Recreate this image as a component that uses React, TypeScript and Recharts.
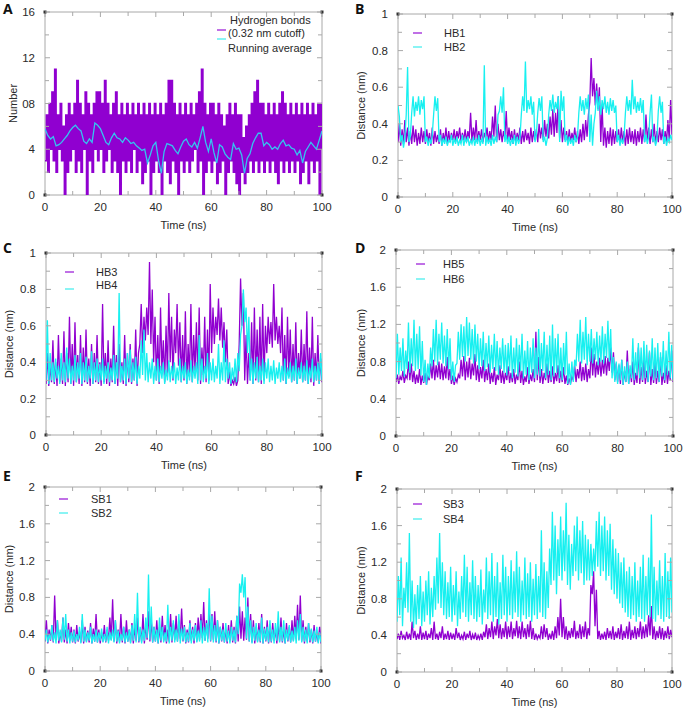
import React from 'react'
import { LineChart, Line, XAxis, YAxis, ReferenceArea, Legend } from 'recharts'

// ---- data (0..100 ns) ----
const hbondCount = [
  3, 7, 2, 8, 4, 9, 3, 11, 2, 7, 4, 8, 3, 6, 0, 7, 2, 8, 3, 7,
  4, 8, 2, 10, 3, 8, 2, 7, 4, 9, 0, 8, 3, 7, 2, 8, 4, 9, 3, 9,
  4, 8, 2, 10, 3, 8, 4, 7, 2, 8, 3, 9, 2, 7, 0, 8, 3, 7, 2, 8,
  3, 7, 2, 8, 4, 7, 2, 8, 3, 7, 1, 8, 2, 7, 3, 8, 0, 7, 2, 8,
  3, 7, 2, 8, 0, 7, 3, 8, 2, 10, 1, 10, 3, 8, 2, 7, 0, 8, 3, 7,
  2, 8, 3, 7, 2, 8, 3, 7, 4, 8, 2, 9, 3, 11, 0, 8, 2, 7, 3, 8,
  2, 8, 3, 7, 1, 8, 2, 7, 3, 6, 0, 7, 2, 8, 3, 7, 2, 8, 1, 7,
  0, 7, 2, 5, 1, 6, 2, 7, 3, 8, 2, 9, 3, 10, 2, 8, 3, 8, 2, 7,
  3, 8, 2, 7, 3, 8, 2, 7, 1, 8, 3, 9, 2, 8, 3, 7, 2, 8, 3, 7,
  2, 8, 3, 7, 1, 8, 2, 7, 3, 8, 1, 7, 3, 8, 2, 7, 3, 8, 0, 8, 4,
]
const hbondAvg = [
  5.8, 5.2, 4.9, 5.1, 4.3, 4.4, 4.6, 4.9, 5.2, 5.6, 5.9, 6.1, 5.8, 5.6, 4.7, 4.5, 4.9, 4.6, 6.3, 6.1,
  5.8, 5.2, 4.6, 4.4, 5.0, 5.4, 5.0, 4.9, 4.6, 5.0, 4.8, 4.5, 4.6, 4.3, 4.1, 3.9, 4.0, 2.8, 3.5, 4.3,
  4.6, 3.0, 1.9, 3.8, 4.5, 4.4, 4.3, 3.9, 3.6, 4.2, 4.7, 4.9, 4.4, 4.2, 4.6, 4.1, 5.0, 6.0, 4.6, 3.8,
  4.9, 3.7, 2.8, 4.4, 4.2, 3.6, 3.3, 3.1, 4.5, 4.0, 4.1, 3.5, 1.9, 3.2, 3.6, 4.5, 5.0, 5.4, 5.4, 4.3,
  4.6, 4.4, 4.0, 4.2, 4.0, 4.5, 4.8, 4.3, 4.4, 4.1, 4.0, 3.5, 3.9, 2.8, 3.8, 4.2, 4.6, 4.3, 4.0, 4.8, 5.6,
]

const hb1 = [
  0.30, 0.40, 0.28, 0.37, 0.29, 0.42, 0.30, 0.38, 0.28, 0.36, 0.29, 0.39, 0.30, 0.37, 0.28, 0.35, 0.29, 0.38, 0.30, 0.36,
  0.29, 0.37, 0.30, 0.35, 0.28, 0.38, 0.29, 0.36, 0.30, 0.34, 0.29, 0.37, 0.28, 0.35, 0.30, 0.38, 0.29, 0.36, 0.30, 0.35,
  0.31, 0.37, 0.30, 0.36, 0.32, 0.38, 0.30, 0.35, 0.31, 0.37, 0.30, 0.36, 0.32, 0.46, 0.30, 0.38, 0.31, 0.42, 0.30, 0.36,
  0.31, 0.37, 0.30, 0.35, 0.32, 0.38, 0.30, 0.36, 0.31, 0.44, 0.33, 0.50, 0.30, 0.40, 0.31, 0.37, 0.30, 0.36, 0.32, 0.47,
  0.30, 0.38, 0.31, 0.36, 0.29, 0.37, 0.30, 0.35, 0.31, 0.38, 0.29, 0.36, 0.30, 0.37, 0.31, 0.35, 0.29, 0.38, 0.30, 0.36,
  0.31, 0.37, 0.30, 0.40, 0.32, 0.38, 0.31, 0.42, 0.33, 0.40, 0.32, 0.44, 0.34, 0.48, 0.33, 0.46, 0.35, 0.55, 0.32, 0.42,
  0.30, 0.38, 0.31, 0.36, 0.29, 0.37, 0.30, 0.35, 0.31, 0.38, 0.30, 0.36, 0.29, 0.37, 0.30, 0.40, 0.31, 0.42, 0.33, 0.45,
  0.52, 0.76, 0.55, 0.65, 0.50, 0.62, 0.48, 0.60, 0.30, 0.50, 0.28, 0.38, 0.27, 0.36, 0.29, 0.38, 0.28, 0.37, 0.29, 0.36,
  0.30, 0.37, 0.29, 0.38, 0.30, 0.36, 0.28, 0.37, 0.29, 0.38, 0.30, 0.36, 0.29, 0.37, 0.28, 0.36, 0.30, 0.38, 0.29, 0.37,
  0.30, 0.45, 0.31, 0.38, 0.29, 0.37, 0.30, 0.40, 0.29, 0.36, 0.30, 0.38, 0.31, 0.37, 0.29, 0.36, 0.30, 0.42, 0.31, 0.53, 0.34,
]
const hb2 = [
  0.50, 0.44, 0.30, 0.34, 0.27, 0.32, 0.45, 0.71, 0.30, 0.33, 0.46, 0.55, 0.44, 0.52, 0.47, 0.55, 0.45, 0.53, 0.48, 0.55,
  0.30, 0.33, 0.28, 0.32, 0.29, 0.34, 0.45, 0.55, 0.47, 0.54, 0.30, 0.34, 0.28, 0.32, 0.29, 0.33, 0.28, 0.31, 0.30, 0.34,
  0.28, 0.32, 0.29, 0.33, 0.28, 0.31, 0.29, 0.34, 0.28, 0.32, 0.30, 0.33, 0.28, 0.31, 0.29, 0.33, 0.28, 0.32, 0.29, 0.34,
  0.28, 0.32, 0.29, 0.72, 0.28, 0.33, 0.29, 0.32, 0.28, 0.34, 0.29, 0.33, 0.30, 0.45, 0.47, 0.55, 0.46, 0.60, 0.30, 0.34,
  0.29, 0.33, 0.28, 0.32, 0.29, 0.34, 0.28, 0.33, 0.29, 0.32, 0.45, 0.55, 0.47, 0.74, 0.46, 0.53, 0.48, 0.55, 0.45, 0.52,
  0.30, 0.34, 0.46, 0.54, 0.47, 0.55, 0.30, 0.33, 0.28, 0.32, 0.45, 0.53, 0.47, 0.56, 0.46, 0.52, 0.48, 0.55, 0.30, 0.58,
  0.47, 0.55, 0.30, 0.34, 0.28, 0.33, 0.29, 0.32, 0.28, 0.34, 0.30, 0.33, 0.46, 0.55, 0.47, 0.53, 0.45, 0.54, 0.48, 0.56,
  0.30, 0.45, 0.28, 0.40, 0.46, 0.58, 0.47, 0.55, 0.45, 0.53, 0.48, 0.55, 0.46, 0.52, 0.45, 0.54, 0.47, 0.53, 0.46, 0.50,
  0.30, 0.34, 0.28, 0.32, 0.29, 0.33, 0.46, 0.55, 0.47, 0.53, 0.45, 0.64, 0.48, 0.55, 0.46, 0.52, 0.47, 0.54, 0.46, 0.53,
  0.30, 0.34, 0.29, 0.33, 0.46, 0.56, 0.30, 0.33, 0.28, 0.32, 0.47, 0.55, 0.46, 0.52, 0.29, 0.33, 0.28, 0.32, 0.30, 0.34, 0.31,
]

const hb3 = [
  0.28, 0.45, 0.27, 0.38, 0.29, 0.52, 0.28, 0.40, 0.27, 0.55, 0.29, 0.42, 0.28, 0.57, 0.27, 0.45, 0.29, 0.65, 0.28, 0.50,
  0.27, 0.62, 0.29, 0.44, 0.28, 0.55, 0.27, 0.48, 0.29, 0.58, 0.28, 0.42, 0.27, 0.50, 0.28, 0.45, 0.29, 0.55, 0.28, 0.40,
  0.27, 0.72, 0.29, 0.45, 0.28, 0.52, 0.27, 0.42, 0.29, 0.60, 0.28, 0.44, 0.27, 0.50, 0.29, 0.40, 0.28, 0.55, 0.27, 0.45,
  0.29, 0.50, 0.28, 0.42, 0.30, 0.58, 0.27, 0.45, 0.50, 0.72, 0.45, 0.65, 0.52, 0.70, 0.55, 0.95, 0.50, 0.80, 0.40, 0.65,
  0.30, 0.55, 0.28, 0.70, 0.35, 0.52, 0.29, 0.60, 0.32, 0.78, 0.40, 0.65, 0.30, 0.58, 0.45, 0.72, 0.38, 0.62, 0.29, 0.55,
  0.30, 0.68, 0.28, 0.50, 0.32, 0.72, 0.29, 0.55, 0.35, 0.62, 0.30, 0.70, 0.28, 0.48, 0.33, 0.65, 0.29, 0.58, 0.30, 0.83,
  0.45, 0.70, 0.50, 0.65, 0.55, 0.75, 0.52, 0.70, 0.48, 0.62, 0.40, 0.58, 0.28, 0.35, 0.27, 0.30, 0.28, 0.32, 0.27, 0.30,
  0.50, 0.86, 0.60, 0.78, 0.30, 0.55, 0.28, 0.45, 0.30, 0.62, 0.28, 0.70, 0.30, 0.58, 0.29, 0.65, 0.28, 0.72, 0.30, 0.60,
  0.45, 0.65, 0.50, 0.62, 0.48, 0.83, 0.52, 0.65, 0.50, 0.60, 0.45, 0.70, 0.30, 0.55, 0.28, 0.65, 0.32, 0.58, 0.29, 0.50,
  0.30, 0.62, 0.28, 0.45, 0.31, 0.58, 0.29, 0.50, 0.30, 0.68, 0.28, 0.48, 0.29, 0.65, 0.27, 0.45, 0.30, 0.55, 0.28, 0.42, 0.29,
]
const hb4 = [
  0.30, 0.63, 0.28, 0.45, 0.30, 0.40, 0.29, 0.42, 0.31, 0.38, 0.28, 0.45, 0.30, 0.40, 0.29, 0.48, 0.31, 0.42, 0.28, 0.38,
  0.30, 0.44, 0.29, 0.40, 0.31, 0.45, 0.28, 0.40, 0.30, 0.43, 0.29, 0.38, 0.31, 0.46, 0.28, 0.40, 0.30, 0.42, 0.29, 0.39,
  0.30, 0.42, 0.28, 0.38, 0.31, 0.40, 0.29, 0.37, 0.30, 0.44, 0.28, 0.40, 0.31, 0.78, 0.29, 0.38, 0.30, 0.42, 0.28, 0.45,
  0.31, 0.47, 0.29, 0.40, 0.30, 0.43, 0.28, 0.38, 0.31, 0.52, 0.33, 0.58, 0.30, 0.45, 0.29, 0.40, 0.31, 0.42, 0.28, 0.38,
  0.30, 0.42, 0.29, 0.38, 0.31, 0.40, 0.28, 0.36, 0.30, 0.41, 0.29, 0.38, 0.31, 0.40, 0.28, 0.37, 0.30, 0.42, 0.29, 0.38,
  0.31, 0.40, 0.28, 0.36, 0.30, 0.41, 0.29, 0.38, 0.31, 0.40, 0.28, 0.55, 0.30, 0.42, 0.29, 0.38, 0.31, 0.45, 0.28, 0.40,
  0.30, 0.42, 0.29, 0.38, 0.31, 0.50, 0.28, 0.40, 0.30, 0.52, 0.29, 0.42, 0.31, 0.40, 0.28, 0.37, 0.30, 0.42, 0.29, 0.45,
  0.35, 0.55, 0.60, 0.80, 0.62, 0.70, 0.45, 0.65, 0.30, 0.42, 0.28, 0.40, 0.31, 0.43, 0.29, 0.38, 0.30, 0.42, 0.28, 0.40,
  0.31, 0.42, 0.29, 0.38, 0.30, 0.41, 0.28, 0.37, 0.31, 0.40, 0.29, 0.38, 0.30, 0.42, 0.28, 0.37, 0.31, 0.40, 0.29, 0.38,
  0.30, 0.42, 0.28, 0.37, 0.31, 0.40, 0.29, 0.38, 0.30, 0.41, 0.28, 0.37, 0.31, 0.42, 0.29, 0.38, 0.30, 0.40, 0.28, 0.45, 0.30,
]

const hb5 = [
  0.58, 0.66, 0.56, 0.64, 0.60, 0.70, 0.57, 0.65, 0.62, 0.80, 0.60, 0.78, 0.58, 0.70, 0.56, 0.66, 0.57, 0.72, 0.55, 0.65,
  0.57, 0.68, 0.55, 0.64, 0.60, 0.78, 0.62, 0.82, 0.60, 0.76, 0.63, 0.80, 0.61, 0.78, 0.60, 0.75, 0.62, 0.85, 0.60, 0.72,
  0.56, 0.65, 0.55, 0.62, 0.58, 0.66, 0.62, 0.82, 0.64, 0.86, 0.60, 0.80, 0.63, 0.84, 0.61, 0.78, 0.65, 0.88, 0.60, 0.76,
  0.58, 0.74, 0.62, 0.82, 0.58, 0.72, 0.60, 0.78, 0.56, 0.68, 0.58, 0.74, 0.55, 0.66, 0.60, 0.76, 0.57, 0.70, 0.56, 0.68,
  0.60, 0.75, 0.57, 0.68, 0.58, 0.72, 0.56, 0.66, 0.60, 0.80, 0.57, 0.70, 0.55, 0.64, 0.58, 0.74, 0.56, 0.66, 0.59, 0.72,
  0.58, 1.12, 0.60, 0.85, 0.57, 0.72, 0.56, 0.68, 0.60, 0.78, 0.57, 0.70, 0.58, 0.75, 0.56, 0.68, 0.59, 0.76, 0.57, 0.70,
  0.58, 0.74, 0.56, 0.65, 0.55, 0.62, 0.56, 0.64, 0.60, 0.76, 0.58, 0.72, 0.62, 0.80, 0.59, 0.74, 0.60, 0.78, 0.58, 0.72,
  0.62, 0.95, 0.65, 0.88, 0.63, 0.80, 0.66, 0.84, 0.64, 0.82, 0.67, 0.86, 0.65, 0.84, 0.70, 0.95, 0.68, 0.90, 0.60, 0.78,
  0.58, 0.76, 0.56, 0.82, 0.55, 0.70, 0.58, 0.92, 0.56, 0.72, 0.58, 0.80, 0.55, 0.68, 0.57, 0.95, 0.56, 0.74, 0.58, 0.82,
  0.56, 0.70, 0.58, 0.90, 0.55, 0.72, 0.57, 0.80, 0.56, 0.70, 0.58, 0.85, 0.55, 0.68, 0.57, 0.76, 0.56, 0.70, 0.60, 0.92, 0.58,
]
const hb6 = [
  0.62, 1.10, 0.66, 0.95, 0.70, 1.05, 0.64, 0.92, 0.72, 1.22, 0.68, 1.05, 0.75, 1.25, 0.70, 1.10, 0.72, 1.18, 0.65, 1.02,
  0.58, 0.82, 0.55, 0.78, 0.62, 0.95, 0.75, 1.15, 0.80, 1.25, 0.76, 1.10, 0.82, 1.22, 0.78, 1.08, 0.75, 1.15, 0.72, 1.05,
  0.60, 0.80, 0.58, 0.76, 0.78, 1.12, 0.82, 1.20, 0.85, 1.18, 0.80, 1.28, 0.86, 1.22, 0.82, 1.15, 0.78, 1.20, 0.80, 1.10,
  0.72, 1.05, 0.75, 1.12, 0.70, 1.00, 0.74, 1.08, 0.68, 0.98, 0.72, 1.10, 0.70, 1.02, 0.66, 0.95, 0.72, 1.05, 0.68, 0.98,
  0.65, 1.00, 0.70, 1.08, 0.62, 0.95, 0.68, 1.05, 0.64, 0.98, 0.70, 1.10, 0.62, 0.92, 0.66, 1.02, 0.60, 0.95, 0.68, 1.05,
  0.62, 0.95, 0.66, 1.15, 0.64, 1.00, 0.70, 1.12, 0.62, 0.98, 0.66, 1.08, 0.60, 1.20, 0.64, 1.05, 0.68, 1.10, 0.62, 0.95,
  0.60, 1.00, 0.66, 1.12, 0.56, 0.78, 0.55, 0.80, 0.58, 0.82, 0.75, 1.10, 0.80, 1.25, 0.78, 1.12, 0.82, 1.28, 0.76, 1.10,
  0.80, 1.15, 0.78, 1.05, 0.82, 1.12, 0.76, 1.08, 0.80, 1.18, 0.78, 1.10, 0.84, 1.24, 0.80, 1.15, 0.62, 0.85, 0.58, 0.80,
  0.56, 0.78, 0.60, 0.82, 0.55, 0.75, 0.58, 0.80, 0.56, 0.76, 0.62, 1.05, 0.60, 0.90, 0.65, 1.00, 0.62, 0.95, 0.60, 1.02,
  0.62, 0.98, 0.58, 0.92, 0.64, 1.05, 0.60, 0.95, 0.62, 1.00, 0.58, 0.90, 0.64, 1.02, 0.60, 0.92, 0.66, 1.12, 0.62, 0.98, 0.60,
]

const sb1 = [
  0.32, 0.55, 0.30, 0.45, 0.33, 0.50, 0.31, 0.82, 0.34, 0.55, 0.30, 0.42, 0.32, 0.58, 0.31, 0.45, 0.30, 0.52, 0.33, 0.48,
  0.31, 0.45, 0.30, 0.50, 0.32, 0.42, 0.31, 0.55, 0.30, 0.48, 0.32, 0.44, 0.31, 0.52, 0.30, 0.46, 0.32, 0.62, 0.31, 0.45,
  0.30, 0.42, 0.32, 0.50, 0.31, 0.45, 0.33, 0.58, 0.34, 0.78, 0.32, 0.55, 0.30, 0.45, 0.32, 0.62, 0.31, 0.48, 0.30, 0.55,
  0.32, 0.45, 0.31, 0.52, 0.30, 0.48, 0.33, 0.58, 0.31, 0.45, 0.32, 0.62, 0.30, 0.50, 0.34, 0.65, 0.32, 0.55, 0.31, 0.48,
  0.32, 0.55, 0.30, 0.48, 0.31, 0.60, 0.33, 0.50, 0.30, 0.45, 0.32, 0.62, 0.31, 0.52, 0.34, 0.60, 0.32, 0.55, 0.35, 0.68,
  0.32, 0.50, 0.30, 0.45, 0.31, 0.55, 0.33, 0.48, 0.30, 0.52, 0.32, 0.58, 0.34, 0.62, 0.36, 0.75, 0.33, 0.55, 0.35, 0.65,
  0.32, 0.62, 0.34, 0.65, 0.31, 0.55, 0.30, 0.48, 0.32, 0.52, 0.31, 0.45, 0.30, 0.50, 0.32, 0.55, 0.31, 0.48, 0.30, 0.60,
  0.32, 0.70, 0.35, 0.65, 0.33, 0.58, 0.34, 0.80, 0.32, 0.62, 0.31, 0.55, 0.30, 0.48, 0.32, 0.52, 0.31, 0.62, 0.30, 0.48,
  0.32, 0.55, 0.30, 0.48, 0.31, 0.52, 0.33, 0.45, 0.30, 0.50, 0.32, 0.58, 0.31, 0.45, 0.30, 0.52, 0.32, 0.48, 0.31, 0.55,
  0.33, 0.60, 0.35, 0.72, 0.34, 0.82, 0.32, 0.55, 0.30, 0.48, 0.32, 0.52, 0.31, 0.45, 0.30, 0.50, 0.32, 0.42, 0.31, 0.48, 0.30,
]
const sb2 = [
  0.33, 0.45, 0.31, 0.40, 0.34, 0.50, 0.32, 0.42, 0.30, 0.55, 0.33, 0.45, 0.31, 0.58, 0.34, 0.62, 0.32, 0.45, 0.30, 0.42,
  0.32, 0.44, 0.31, 0.40, 0.33, 0.48, 0.30, 0.62, 0.32, 0.45, 0.31, 0.42, 0.33, 0.48, 0.30, 0.40, 0.32, 0.45, 0.31, 0.42,
  0.33, 0.46, 0.31, 0.40, 0.32, 0.48, 0.30, 0.42, 0.33, 0.45, 0.31, 0.55, 0.32, 0.44, 0.30, 0.40, 0.33, 0.48, 0.31, 0.42,
  0.32, 0.45, 0.30, 0.50, 0.33, 0.62, 0.31, 0.85, 0.32, 0.48, 0.30, 0.45, 0.33, 0.58, 0.36, 1.05, 0.34, 0.70, 0.31, 0.48,
  0.32, 0.45, 0.30, 0.58, 0.33, 0.48, 0.31, 0.42, 0.32, 0.72, 0.30, 0.48, 0.33, 0.55, 0.31, 0.45, 0.32, 0.62, 0.30, 0.46,
  0.33, 0.48, 0.31, 0.42, 0.32, 0.52, 0.30, 0.45, 0.33, 0.50, 0.31, 0.44, 0.32, 0.55, 0.30, 0.48, 0.33, 0.52, 0.31, 0.90,
  0.33, 0.60, 0.31, 0.50, 0.32, 0.55, 0.30, 0.48, 0.33, 0.45, 0.31, 0.52, 0.32, 0.44, 0.30, 0.48, 0.33, 0.45, 0.31, 0.60,
  0.40, 0.95, 0.85, 1.05, 0.80, 1.02, 0.35, 0.70, 0.32, 0.55, 0.30, 0.48, 0.33, 0.52, 0.31, 0.45, 0.32, 0.58, 0.30, 0.46,
  0.33, 0.48, 0.31, 0.55, 0.32, 0.45, 0.30, 0.52, 0.33, 0.65, 0.31, 0.48, 0.32, 0.55, 0.30, 0.45, 0.33, 0.50, 0.31, 0.44,
  0.32, 0.48, 0.30, 0.55, 0.33, 0.62, 0.31, 0.48, 0.32, 0.45, 0.30, 0.52, 0.33, 0.46, 0.31, 0.44, 0.32, 0.48, 0.30, 0.42, 0.31,
]

const sb3 = [
  0.36, 0.42, 0.35, 0.45, 0.37, 0.40, 0.35, 0.44, 0.36, 0.42, 0.35, 0.55, 0.37, 0.45, 0.35, 0.42, 0.36, 0.50, 0.35, 0.43,
  0.36, 0.45, 0.35, 0.42, 0.37, 0.48, 0.35, 0.55, 0.36, 0.42, 0.35, 0.44, 0.37, 0.50, 0.35, 0.42, 0.36, 0.45, 0.35, 0.43,
  0.36, 0.42, 0.35, 0.48, 0.37, 0.43, 0.35, 0.40, 0.36, 0.44, 0.35, 0.42, 0.37, 0.45, 0.35, 0.41, 0.36, 0.43, 0.35, 0.40,
  0.36, 0.42, 0.35, 0.44, 0.38, 0.52, 0.36, 0.48, 0.38, 0.55, 0.36, 0.50, 0.40, 0.58, 0.37, 0.52, 0.36, 0.48, 0.38, 0.55,
  0.36, 0.50, 0.38, 0.55, 0.36, 0.48, 0.39, 0.56, 0.37, 0.50, 0.36, 0.55, 0.38, 0.48, 0.36, 0.52, 0.38, 0.56, 0.36, 0.48,
  0.35, 0.42, 0.36, 0.40, 0.37, 0.50, 0.36, 0.52, 0.38, 0.48, 0.35, 0.42, 0.36, 0.45, 0.35, 0.50, 0.37, 0.60, 0.40, 0.80,
  0.38, 0.60, 0.36, 0.50, 0.35, 0.45, 0.37, 0.48, 0.38, 0.56, 0.36, 0.45, 0.37, 0.52, 0.36, 0.50, 0.38, 0.55, 0.36, 0.48,
  0.40, 0.95, 0.85, 1.10, 0.50, 0.90, 0.36, 0.45, 0.35, 0.42, 0.36, 0.44, 0.35, 0.48, 0.37, 0.45, 0.36, 0.50, 0.35, 0.44,
  0.37, 0.48, 0.36, 0.52, 0.35, 0.45, 0.37, 0.50, 0.36, 0.55, 0.35, 0.46, 0.37, 0.50, 0.36, 0.48, 0.38, 0.55, 0.36, 0.50,
  0.37, 0.52, 0.38, 0.62, 0.40, 0.72, 0.36, 0.50, 0.35, 0.45, 0.37, 0.50, 0.36, 0.48, 0.35, 0.45, 0.37, 0.50, 0.36, 0.46, 0.38,
]
const sb4 = [
  0.55, 1.05, 0.62, 1.25, 0.50, 0.92, 0.70, 1.20, 0.65, 1.52, 0.55, 1.00, 0.48, 0.85, 0.52, 0.95, 0.58, 1.05, 0.50, 0.88,
  0.55, 1.00, 0.62, 1.10, 0.52, 0.92, 0.60, 1.05, 0.68, 1.25, 0.75, 1.52, 0.70, 1.20, 0.62, 1.10, 0.58, 0.98, 0.60, 1.15,
  0.55, 0.95, 0.62, 1.10, 0.50, 0.88, 0.58, 1.05, 0.65, 1.28, 0.60, 1.15, 0.55, 0.98, 0.62, 1.22, 0.58, 1.05, 0.55, 0.95,
  0.60, 1.12, 0.52, 0.90, 0.65, 1.25, 0.58, 1.10, 0.62, 1.30, 0.55, 1.05, 0.60, 1.20, 0.52, 0.98, 0.58, 1.28, 0.62, 1.15,
  0.55, 1.05, 0.62, 1.22, 0.58, 1.10, 0.65, 1.32, 0.60, 1.15, 0.55, 1.00, 0.62, 1.25, 0.58, 1.08, 0.60, 1.20, 0.55, 1.02,
  0.62, 1.18, 0.58, 1.05, 0.65, 1.55, 0.60, 1.20, 0.58, 1.10, 0.70, 1.35, 0.95, 1.75, 1.00, 1.60, 0.85, 1.45, 1.05, 1.70,
  1.00, 1.55, 1.10, 1.85, 0.95, 1.50, 0.90, 1.40, 1.05, 1.60, 1.10, 1.70, 1.00, 1.55, 1.08, 1.65, 0.95, 1.50, 1.00, 1.45,
  1.00, 1.40, 1.05, 1.35, 1.10, 1.65, 1.15, 1.75, 1.05, 1.60, 1.10, 1.70, 1.00, 1.55, 1.05, 1.62, 0.90, 1.45, 0.85, 1.35,
  0.80, 1.30, 0.75, 1.20, 0.70, 1.25, 0.65, 1.10, 0.60, 1.15, 0.58, 1.05, 0.62, 1.20, 0.55, 1.00, 0.60, 1.15, 0.58, 1.28,
  0.55, 1.05, 0.62, 1.25, 0.60, 1.72, 0.58, 1.15, 0.55, 1.00, 0.62, 1.22, 0.58, 1.05, 0.55, 1.30, 0.60, 1.10, 0.58, 1.25, 0.65,
]

const xTicks = [0, 10, 20, 30, 40, 50, 60, 70, 80, 90, 100]
const xMajor = [0, 20, 40, 60, 80, 100]

const countTicks = [0, 2, 4, 6, 8, 10, 12, 14, 16]
const countMajor = [0, 4, 8, 12, 16]
const countLabels = ['0', '4', '08', '12', '16']

const unitTicks = [0, 0.1, 0.2, 0.3, 0.4, 0.5, 0.6, 0.7, 0.8, 0.9, 1]
const unitMajor = [0, 0.2, 0.4, 0.6, 0.8, 1]
const unitLabels = ['0', '0.2', '0.4', '0.6', '0.8', '1']

const twoTicks = [0, 0.2, 0.4, 0.6, 0.8, 1, 1.2, 1.4, 1.6, 1.8, 2]
const twoMajor = [0, 0.4, 0.8, 1.2, 1.6, 2]
const twoLabels = ['0', '0.4', '0.8', '1.2', '1.6', '2']

const PURPLE = '#9000d0'
const CYAN = '#18f0f0'
const AVG = '#34c4f0'
const PURPLE_KEY = '#c070e6'
const CYAN_KEY = '#8af4f4'
const FRAME = '#a8a8a8'
const TEXT = '#2a2a2a'

const toRows = (vals: number[]) => vals.map((v, i) => ({ t: (i * 100) / (vals.length - 1), v }))

const W = 340
const H = 245
const YW = 40
const XH = 40

function Panel({ left, top, plot, yMax, yTicks, yMajor, yLabels, yTitle, titleX, series, legend }) {
  const [pl, pt, pr, pb] = plot
  const margin = { top: pt - top, right: left + W - pr, left: pl - left - YW, bottom: top + H - pb - XH }
  const iT = pt - top
  const iB = pb - top
  const iL = pl - left
  const iR = pr - left

  const xTick = ({ x, payload }) => {
    const v = payload.value
    const major = xMajor.includes(v)
    const len = major ? 5 : 4
    return (
      <g>
        <line x1={x} x2={x} y1={iB} y2={iB - len} stroke={FRAME} />
        <line x1={x} x2={x} y1={iT} y2={iT + len} stroke={FRAME} />
        {(v === 0 || v === 100) && (
          <>
            <rect x={x - 1.5} y={iB - 1.5} width={3} height={3} fill="#333" />
            <rect x={x - 1.5} y={iT - 1.5} width={3} height={3} fill="#333" />
          </>
        )}
        {major && (
          <text x={x} y={iB + 16} textAnchor="middle" fontSize={11.5} fill={TEXT}>
            {v}
          </text>
        )}
      </g>
    )
  }

  const yTick = ({ y, payload }) => {
    const v = payload.value
    const idx = yMajor.findIndex((m) => Math.abs(m - v) < 1e-6)
    const len = idx >= 0 ? 5 : 4
    return (
      <g>
        <line x1={iL} x2={iL + len} y1={y} y2={y} stroke={FRAME} />
        <line x1={iR} x2={iR - len} y1={y} y2={y} stroke={FRAME} />
        {idx >= 0 && (
          <text x={iL - 10} y={y + 4} textAnchor="end" fontSize={11.5} fill={TEXT}>
            {yLabels[idx]}
          </text>
        )}
      </g>
    )
  }

  const cy = (iT + iB) / 2
  const cx = titleX - left
  const yLabel = () => (
    <text
      x={cx}
      y={cy}
      transform={`rotate(-90 ${cx} ${cy})`}
      textAnchor="middle"
      dominantBaseline="central"
      fontSize={11}
      fill={TEXT}
    >
      {yTitle}
    </text>
  )

  const legendBox = () => (
    <div style={{ position: 'relative', width: W, height: H, fontSize: 11, color: TEXT }}>
      {legend.map((it, i) => (
        <React.Fragment key={i}>
          {it.color && (
            <div
              style={{
                position: 'absolute',
                left: it.dashX - left,
                top: it.dashY - top - 1,
                width: 9,
                height: 2,
                background: it.color,
              }}
            />
          )}
          {it.label && (
            <div
              style={{
                position: 'absolute',
                left: it.textX - left,
                top: it.textY - top - 7,
                lineHeight: '14px',
                whiteSpace: 'nowrap',
              }}
            >
              {it.label}
            </div>
          )}
        </React.Fragment>
      ))}
    </div>
  )

  return (
    <div style={{ position: 'absolute', left, top }}>
      <LineChart width={W} height={H} margin={margin}>
        <XAxis
          dataKey="t"
          type="number"
          domain={[0, 100]}
          ticks={xTicks}
          interval={0}
          tick={xTick}
          tickLine={false}
          axisLine={false}
          tickSize={0}
          tickMargin={0}
          height={XH}
          allowDataOverflow
          label={{ value: 'Time (ns)', position: 'insideBottom', offset: 6, fontSize: 11, fill: TEXT }}
        />
        <YAxis
          type="number"
          domain={[0, yMax]}
          ticks={yTicks}
          interval={0}
          tick={yTick}
          tickLine={false}
          axisLine={false}
          tickSize={0}
          tickMargin={0}
          width={YW}
          allowDataOverflow
          label={yLabel}
        />
        {series.map((s, i) => (
          <Line
            key={i}
            data={toRows(s.values)}
            dataKey="v"
            type={s.step ? 'stepAfter' : 'linear'}
            stroke={s.color}
            strokeWidth={s.width || 1.3}
            dot={false}
            activeDot={false}
            isAnimationActive={false}
          />
        ))}
        <ReferenceArea x1={0} x2={100} y1={0} y2={yMax} fill="none" stroke={FRAME} strokeWidth={1} />
        <Legend
          layout="horizontal"
          verticalAlign="middle"
          align="center"
          content={legendBox}
          wrapperStyle={{ left: 0, top: 0, width: W, height: H, pointerEvents: 'none' }}
        />
      </LineChart>
    </div>
  )
}

const letterStyle = {
  position: 'absolute' as const,
  fontFamily: '"Open Sans", "DejaVu Sans", sans-serif',
  fontWeight: 700,
  fontSize: 14,
  lineHeight: '14px',
  color: '#111',
}

export default function App() {
  return (
    <div
      style={{
        position: 'absolute',
        left: 0,
        top: 0,
        width: 685,
        height: 716,
        background: '#fff',
        fontFamily: '"Liberation Sans", Arial, sans-serif',
      }}
    >
      <Panel
        left={0}
        top={0}
        plot={[45, 12, 322, 195]}
        yMax={16}
        yTicks={countTicks}
        yMajor={countMajor}
        yLabels={countLabels}
        yTitle="Number"
        titleX={13}
        series={[
          { values: hbondCount, color: PURPLE, step: true, width: 1.6 },
          { values: hbondAvg, color: AVG, width: 1.3 },
        ]}
        legend={[
          { label: 'Hydrogen bonds', textX: 230, textY: 20 },
          { label: '(0.32 nm cutoff)', textX: 228, textY: 33, color: PURPLE_KEY, dashX: 217, dashY: 30 },
          { label: 'Running average', textX: 228, textY: 48, color: CYAN_KEY, dashX: 217, dashY: 39 },
        ]}
      />
      <Panel
        left={345}
        top={0}
        plot={[398, 14, 672, 197]}
        yMax={1}
        yTicks={unitTicks}
        yMajor={unitMajor}
        yLabels={unitLabels}
        yTitle="Distance (nm)"
        titleX={361}
        series={[
          { values: hb1, color: PURPLE },
          { values: hb2, color: CYAN },
        ]}
        legend={[
          { label: 'HB1', textX: 444, textY: 33, color: PURPLE_KEY, dashX: 413, dashY: 33 },
          { label: 'HB2', textX: 444, textY: 47, color: CYAN_KEY, dashX: 413, dashY: 47 },
        ]}
      />
      <Panel
        left={0}
        top={235}
        plot={[46, 253, 322, 435]}
        yMax={1}
        yTicks={unitTicks}
        yMajor={unitMajor}
        yLabels={unitLabels}
        yTitle="Distance (nm)"
        titleX={9}
        series={[
          { values: hb3, color: PURPLE },
          { values: hb4, color: CYAN },
        ]}
        legend={[
          { label: 'HB3', textX: 96, textY: 272, color: PURPLE_KEY, dashX: 65, dashY: 272 },
          { label: 'HB4', textX: 96, textY: 285, color: CYAN_KEY, dashX: 65, dashY: 289 },
        ]}
      />
      <Panel
        left={345}
        top={235}
        plot={[396, 250, 673, 436]}
        yMax={2}
        yTicks={twoTicks}
        yMajor={twoMajor}
        yLabels={twoLabels}
        yTitle="Distance (nm)"
        titleX={361}
        series={[
          { values: hb5, color: PURPLE },
          { values: hb6, color: CYAN },
        ]}
        legend={[
          { label: 'HB5', textX: 443, textY: 264, color: PURPLE_KEY, dashX: 416, dashY: 264 },
          { label: 'HB6', textX: 443, textY: 279, color: CYAN_KEY, dashX: 416, dashY: 279 },
        ]}
      />
      <Panel
        left={0}
        top={470}
        plot={[45, 487, 321, 671]}
        yMax={2}
        yTicks={twoTicks}
        yMajor={twoMajor}
        yLabels={twoLabels}
        yTitle="Distance (nm)"
        titleX={9}
        series={[
          { values: sb1, color: PURPLE },
          { values: sb2, color: CYAN },
        ]}
        legend={[
          { label: 'SB1', textX: 91, textY: 499, color: PURPLE_KEY, dashX: 59, dashY: 499 },
          { label: 'SB2', textX: 91, textY: 513, color: CYAN_KEY, dashX: 59, dashY: 513 },
        ]}
      />
      <Panel
        left={345}
        top={470}
        plot={[397, 489, 672, 672]}
        yMax={2}
        yTicks={twoTicks}
        yMajor={twoMajor}
        yLabels={twoLabels}
        yTitle="Distance (nm)"
        titleX={361}
        series={[
          { values: sb3, color: PURPLE },
          { values: sb4, color: CYAN },
        ]}
        legend={[
          { label: 'SB3', textX: 443, textY: 504, color: PURPLE_KEY, dashX: 413, dashY: 504 },
          { label: 'SB4', textX: 443, textY: 519, color: CYAN_KEY, dashX: 413, dashY: 519 },
        ]}
      />
      <div style={{ ...letterStyle, left: 3, top: 2 }}>A</div>
      <div style={{ ...letterStyle, left: 355, top: 2 }}>B</div>
      <div style={{ ...letterStyle, left: 3, top: 241 }}>C</div>
      <div style={{ ...letterStyle, left: 355, top: 241 }}>D</div>
      <div style={{ ...letterStyle, left: 3, top: 469 }}>E</div>
      <div style={{ ...letterStyle, left: 355, top: 469 }}>F</div>
    </div>
  )
}
